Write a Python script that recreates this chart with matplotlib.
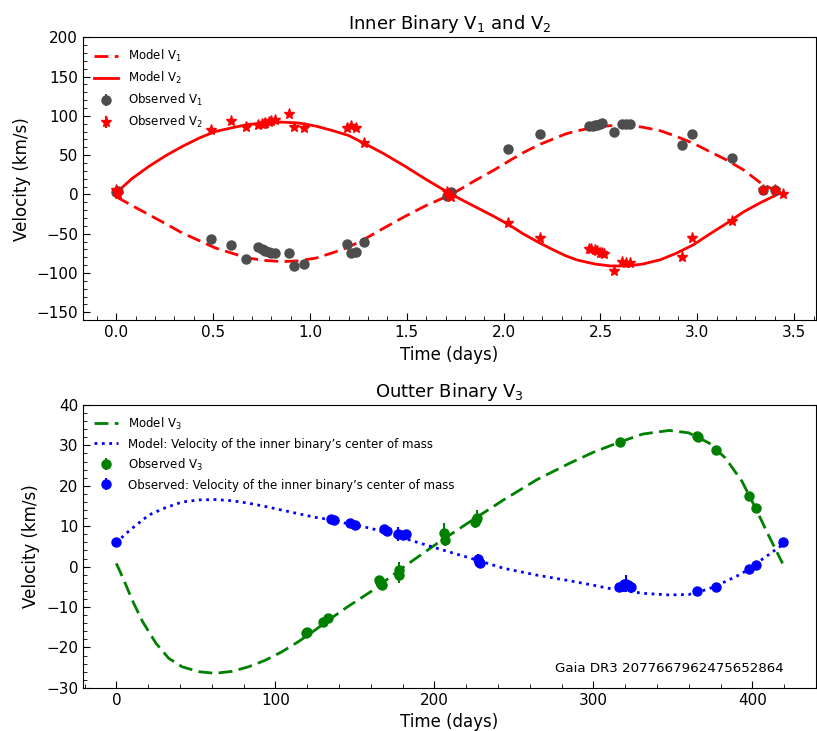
import numpy as np
import matplotlib
matplotlib.use("Agg")
from matplotlib import pyplot as plt

# inner binary model curves (days, km/s)
t_model_in = [0.0, 0.08, 0.17, 0.26, 0.34, 0.43, 0.51, 0.6, 0.68, 0.77, 0.855, 0.94, 1.03, 1.12, 1.2,
              1.28, 1.38, 1.49, 1.6, 1.73, 1.84, 1.95, 2.03, 2.1, 2.18, 2.26, 2.32, 2.38, 2.47, 2.55,
              2.64, 2.72, 2.81, 2.89, 2.98, 3.06, 3.15, 3.24, 3.33, 3.43]
v1_model = [-3, -14, -26, -38, -49, -59, -68, -75, -81, -84, -85.5, -84.5, -81, -74, -67,
            -57, -43, -28, -14, 0, 16, 31, 43, 53, 63, 71, 77, 81, 85.5, 87.5,
            88, 85.5, 81, 74, 65, 55, 44, 31, 14, 1.6]
v2_model = [2, 20, 36, 50, 61, 72, 80, 85, 89, 91, 92, 91, 87, 81, 75,
            65, 52, 36, 19, 0, -14, -28, -39, -50, -61, -71, -78, -83.5, -88.5, -91,
            -91, -88.5, -83, -75, -64, -51, -37, -22, -10, 2]

# observed inner binary
t_obs1 = [0.00, 0.01, 0.49, 0.59, 0.67, 0.73, 0.75, 0.76, 0.77, 0.79, 0.80, 0.82, 0.89, 0.92, 0.97,
          1.19, 1.21, 1.24, 1.28, 1.71, 1.72, 1.73, 2.02, 2.19, 2.44, 2.46, 2.47, 2.48, 2.50, 2.51,
          2.57, 2.61, 2.63, 2.65, 2.92, 2.97, 3.18, 3.34, 3.40]
v_obs1 = [3, 5, -57, -64, -82, -67, -69, -71, -72, -73, -74, -74, -75, -91, -89,
          -63, -74, -73, -61, -2, 1, 3, 58, 77, 87, 87, 88, 89, 90, 91,
          80, 90, 90, 90, 63, 77, 47, 6, 6]
t_obs2 = [0.00, 0.005, 0.01, 0.49, 0.59, 0.67, 0.73, 0.75, 0.76, 0.77, 0.79, 0.80, 0.82, 0.89, 0.92, 0.97,
          1.19, 1.21, 1.24, 1.28, 1.71, 1.72, 1.73, 2.02, 2.19, 2.44, 2.45, 2.47, 2.48, 2.50, 2.51, 2.52,
          2.57, 2.61, 2.63, 2.65, 2.92, 2.97, 3.18, 3.34, 3.40, 3.44]
v_obs2 = [6, 3, 1, 82, 94, 86, 89, 90, 90, 91, 92, 93, 95, 103, 86, 85,
          84, 87, 84, 65, 3, -1, -3, -36, -56, -69, -70, -71, -72, -74, -75, -76,
          -98, -86, -87, -87, -79, -56, -34, 6, 6, 1]

# outer binary model curves
t_v3_model = [0, 3, 6, 10, 16.5, 25, 33, 41.5, 52, 62, 73, 83, 93.5, 104, 114.4, 125, 135, 145.6,
              160, 181, 202, 222.7, 243.5, 264.4, 285.2, 300, 316.5, 331, 347.7, 360, 372.7, 383,
              393.5, 402, 410, 419]
v3_model = [0.8, -1.8, -4.5, -8.3, -13.6, -19, -22.7, -24.8, -26, -26.4, -25.9, -24.8, -23.2, -21.1,
            -18.6, -15.7, -12.8, -9.9, -6.2, 0, 5.8, 11.2, 16.5, 21.5, 25.6, 28.3, 30.8, 32.8, 33.7,
            33.1, 30.6, 26.9, 21.1, 14.5, 7.9, 0.8]
t_cm_model = [0, 5, 10, 20.6, 31, 41.5, 52, 62, 73, 83, 93.5, 104, 114.4, 125, 135, 145.6, 160, 181,
              202, 222.7, 243.5, 264.4, 285.2, 300, 310, 331, 347.7, 360, 372.7, 383, 393.5, 404, 419]
vcm_model = [5.8, 7.8, 9.5, 12.8, 14.6, 16, 16.5, 16.6, 16.3, 15.7, 14.9, 14, 13.1, 12.2, 11.6, 10.6,
             9.5, 7, 4.5, 2.1, -0.4, -2.1, -3.5, -4.6, -5.4, -6.6, -7.0, -6.9, -5.5, -3.7, -1.7, 1.2, 5.4]

# outer binary observations
t_v3 = [119, 120, 130, 133, 165.5, 166, 166.5, 167, 177.5, 178, 206, 206.5, 225.5, 226, 227,
        316.5, 365, 366, 377, 398, 402.5]
v_v3 = [-16.5, -16.2, -13.6, -12.6, -3.2, -3.8, -4.3, -4.6, -0.8, -2.0, 8.2, 6.6, 11.0, 11.6, 12.1,
        30.8, 32.4, 32.0, 28.9, 17.5, 14.4]
e_v3 = [0.5, 0.5, 0.5, 0.5, 0.8, 0.8, 0.8, 0.8, 2.0, 2.0, 2.5, 1.5, 1.5, 1.5, 2.0,
        0.5, 0.5, 0.5, 0.5, 0.6, 0.5]
t_cm = [0, 135, 137, 147, 150, 168.5, 170, 177, 180, 182, 227.5, 228, 228.5, 316, 318, 319.5, 320.5,
        321.5, 322.5, 324, 365.5, 377, 398, 402.5, 419]
v_cm = [6.0, 11.9, 11.5, 10.7, 10.3, 9.3, 8.9, 8.1, 7.8, 8.0, 1.9, 1.2, 0.8, -5.0, -4.8, -4.4, -4.2,
        -4.6, -4.9, -5.0, -6.0, -5.0, -0.7, 0.5, 6.0]
e_cm = [0.3, 0.4, 0.4, 0.4, 0.4, 0.7, 0.6, 1.8, 0.8, 0.7, 1.2, 1.4, 1.0, 0.5, 0.8, 1.0, 2.2,
        1.2, 1.0, 0.7, 0.5, 0.4, 0.4, 0.4, 0.3]

fig = plt.figure(figsize=(8.17, 7.31), dpi=100)
ax1 = fig.add_axes([0.1016, 0.562, 0.897, 0.387])
ax2 = fig.add_axes([0.1016, 0.059, 0.897, 0.387])

dash = (5, 2.3)

# inner binary
ax1.plot(t_model_in, v1_model, 'r--', lw=2, dashes=dash, label='Model V$_1$')
ax1.plot(t_model_in, v2_model, 'r-', lw=2, label='Model V$_2$')
ax1.errorbar(t_obs1, v_obs1, yerr=1.5, fmt='o', color='#4d4d4d', ms=6.5, elinewidth=1.5,
             capsize=0, label='Observed V$_1$')
ax1.errorbar(t_obs2, v_obs2, yerr=1.5, fmt='*', color='red', ms=8, elinewidth=1.5,
             capsize=0, label='Observed V$_2$')
ax1.set_ylim(-160, 200)
ax1.set_title('Inner Binary V$_1$ and V$_2$', fontsize=13)
ax1.set_xlabel('Time (days)', fontsize=12)
ax1.set_ylabel('Velocity (km/s)', fontsize=12)
ax1.legend(loc='upper left', frameon=False, fontsize=8.5, handlelength=2.1)

# outer binary
ax2.plot(t_v3_model, v3_model, '--', color='green', lw=2, dashes=dash, label='Model V$_3$')
ax2.plot(t_cm_model, vcm_model, ':', color='blue', lw=2,
         label='Model: Velocity of the inner binary\u2019s center of mass')
ax2.errorbar(t_v3, v_v3, yerr=e_v3, fmt='o', color='green', ms=6.5, elinewidth=1.5,
             capsize=0, label='Observed V$_3$')
ax2.errorbar(t_cm, v_cm, yerr=e_cm, fmt='o', color='blue', ms=6.5, elinewidth=1.5,
             capsize=0, label='Observed: Velocity of the inner binary\u2019s center of mass')
ax2.set_ylim(-30, 40)
ax2.set_title('Outter Binary V$_3$', fontsize=13)
ax2.set_xlabel('Time (days)', fontsize=12)
ax2.set_ylabel('Velocity (km/s)', fontsize=12)
ax2.legend(loc='upper left', frameon=False, fontsize=8.5, handlelength=2.1)
ax2.text(0.956, 0.07, 'Gaia DR3 2077667962475652864', transform=ax2.transAxes,
         ha='right', va='center', fontsize=9.6)

for ax in (ax1, ax2):
    ax.minorticks_on()
    ax.tick_params(which='both', direction='in', labelsize=11)
    ax.tick_params(which='major', length=5)
    ax.tick_params(which='minor', length=3)

fig.savefig('out.png', dpi=100)
